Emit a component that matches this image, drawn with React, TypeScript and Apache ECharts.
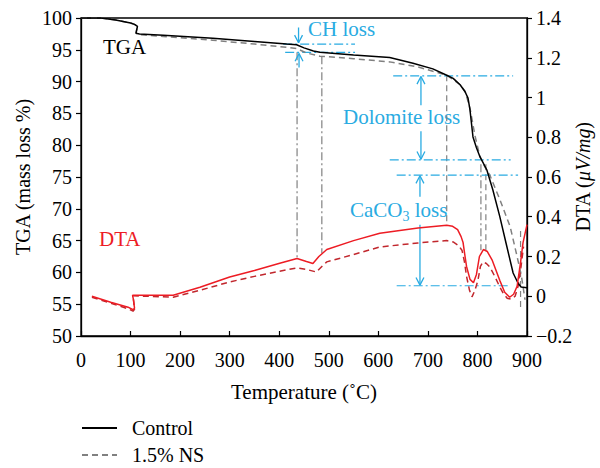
import React, { useEffect, useRef } from "react";
import * as echarts from "echarts";

// ---- TGA (mass loss %) ----
const tgaControlTemp = [0, 40, 70, 100, 108, 114, 112, 111, 118, 166, 266, 350, 415, 435, 450, 469, 482, 550, 623, 670, 710, 738, 751, 765, 775, 781, 785, 791, 798, 805, 819, 831, 845, 858, 872, 882, 888, 900];
const tgaControl = [100, 100, 99.7, 99.2, 99.0, 98.7, 98.0, 97.6, 97.5, 97.3, 96.8, 96.3, 95.9, 95.8, 95.3, 94.8, 94.6, 94.2, 93.8, 92.9, 92.0, 91.0, 90.5, 89.5, 88.4, 87.4, 85.5, 81.3, 79.6, 78.2, 76.1, 73.0, 68.8, 64.5, 59.9, 58.3, 57.7, 57.6];

const tgaNSTemp = [0, 40, 70, 100, 108, 114, 112, 111, 118, 166, 266, 350, 415, 435, 455, 482, 550, 623, 680, 738, 751, 765, 775, 785, 795, 805, 815, 825, 845, 866, 880, 889, 896];
const tgaNS = [100, 100, 99.7, 99.2, 99.0, 98.7, 98.0, 97.6, 97.4, 97.1, 96.5, 95.9, 95.4, 95.2, 94.5, 94.0, 93.6, 93.1, 92.3, 91.0, 90.3, 89.5, 88.5, 85.8, 81.5, 78.2, 76.6, 75.3, 71.5, 67.2, 62.5, 59.3, 55.7];

// ---- DTA (μV/mg) ----
const dtaControlTemp = [22, 60, 95, 105, 108, 106, 104, 120, 186, 240, 300, 350, 401, 436, 455, 468, 480, 496, 550, 603, 680, 738, 750, 760, 767, 771, 775, 778, 785, 792, 798, 804, 812, 820, 830, 845, 855, 865, 873, 880, 887, 892, 900];
const dtaControl = [0.0, -0.03, -0.055, -0.068, -0.06, -0.02, 0.005, 0.005, 0.005, 0.045, 0.097, 0.13, 0.166, 0.19, 0.175, 0.165, 0.2, 0.235, 0.28, 0.317, 0.343, 0.357, 0.352, 0.335, 0.3, 0.27, 0.2, 0.15, 0.085, 0.068, 0.11, 0.2, 0.235, 0.225, 0.18, 0.08, 0.02, -0.005, 0.01, 0.05, 0.17, 0.27, 0.36];

const dtaNSTemp = [22, 60, 95, 105, 108, 106, 104, 130, 186, 240, 300, 350, 401, 436, 455, 475, 486, 496, 550, 603, 680, 738, 751, 762, 769, 774, 778, 784, 789, 795, 801, 806, 811, 818, 825, 835, 845, 852, 860, 868, 876, 882, 888, 893];
const dtaNS = [-0.005, -0.035, -0.063, -0.075, -0.066, -0.02, 0.003, 0.0, -0.005, 0.03, 0.072, 0.1, 0.126, 0.143, 0.135, 0.122, 0.15, 0.173, 0.21, 0.248, 0.268, 0.28, 0.273, 0.255, 0.23, 0.17, 0.1, 0.03, -0.003, 0.03, 0.08, 0.15, 0.173, 0.165, 0.147, 0.1, 0.047, 0.015, -0.01, -0.015, 0.0, 0.05, 0.15, 0.25];

// ---- annotation values (TGA axis units) ----
const refTemp = [436, 486, 738, 807, 817, 887];
const refTop = [94.6, 94.0, 91.0, 77.0, 77.0, 66.5];
const refBottom = [62.3, 63.0, 67.6, 63.5, 63.5, 54.5];
const refDash = ["dashdot", "dashdot", "dashed", "dashdot", "dashed", "dashed"];

const levelValue = [95.9, 94.6, 90.9, 77.7, 75.3, 57.9];
const levelFrom = [408, 412, 630, 623, 637, 637];
const levelTo = [553, 553, 872, 867, 882, 866];

const arrowTemp = [439, 440, 686, 686, 684, 684];
const arrowFrom = [98.5, 92.2, 86.3, 82.2, 71.9, 67.5];
const arrowTo = [96.1, 94.4, 90.8, 77.8, 75.2, 58.0];

const seriesNames = ["Control", "1.5% NS"];

const FONT = "'Liberation Serif', serif";
const BLUE = "#29abe2";
const RED = "#ed1c24";
const DARKRED = "#c1272d";
const GRAY = "#808080";

const zip = (a: number[], b: number[]) => a.map((x, i) => [x, b[i]]);

export default function App() {
  const ref = useRef<HTMLDivElement>(null);
  useEffect(() => {
    document.body.style.margin = "0";
    const chart = echarts.init(ref.current!, undefined, { renderer: "svg" });

    const series: any[] = [
      {
        name: seriesNames[0], type: "line", yAxisIndex: 0, data: zip(tgaControlTemp, tgaControl),
        symbol: "none", lineStyle: { color: "#000", width: 1.5 }, itemStyle: { color: "#000" }, z: 5,
      },
      {
        name: seriesNames[1], type: "line", yAxisIndex: 0, data: zip(tgaNSTemp, tgaNS),
        symbol: "none", lineStyle: { color: GRAY, width: 1.5, type: [6, 4] }, itemStyle: { color: GRAY }, z: 4,
      },
      {
        name: "DTA Control", type: "line", yAxisIndex: 1, data: zip(dtaControlTemp, dtaControl),
        symbol: "none", lineStyle: { color: RED, width: 1.5 }, z: 5,
      },
      {
        name: "DTA 1.5% NS", type: "line", yAxisIndex: 1, data: zip(dtaNSTemp, dtaNS),
        symbol: "none", lineStyle: { color: DARKRED, width: 1.5, type: [6, 4] }, z: 4,
      },
    ];

    refTemp.forEach((t, i) => {
      series.push({
        type: "line", yAxisIndex: 0, symbol: "none", silent: true,
        data: [[t, refTop[i]], [t, refBottom[i]]],
        lineStyle: { color: GRAY, width: 1.2, type: refDash[i] === "dashdot" ? [8, 3, 2, 3] : [6, 4] },
        z: 2,
      });
    });

    levelValue.forEach((v, i) => {
      series.push({
        type: "line", yAxisIndex: 0, symbol: "none", silent: true,
        data: [[levelFrom[i], v], [levelTo[i], v]],
        lineStyle: { color: BLUE, width: 1.2, type: [9, 3, 2, 3] },
        z: 3,
      });
    });

    arrowTemp.forEach((t, i) => {
      const dir = arrowTo[i] > arrowFrom[i] ? 1 : -1;
      series.push({
        type: "line", yAxisIndex: 0, symbol: "none", silent: true,
        data: [[t, arrowFrom[i]], [t, arrowTo[i]]],
        lineStyle: { color: BLUE, width: 1.3 },
        z: 3,
      });
      series.push({
        type: "line", yAxisIndex: 0, symbol: "none", silent: true,
        data: [[t - 8, arrowTo[i] - dir * 1.2], [t, arrowTo[i]], [t + 8, arrowTo[i] - dir * 1.2]],
        lineStyle: { color: BLUE, width: 1.3 },
        z: 3,
      });
    });

    const labelStyle = { fontFamily: FONT, fontSize: 20, color: "#000" };
    const nameStyle = { fontFamily: FONT, fontSize: 20, color: "#000" };

    chart.setOption({
      animation: false,
      grid: {
        left: 81, right: 73, top: 18, bottom: 132, outerBoundsMode: "none", containLabel: false,
        show: true, borderColor: "#000", borderWidth: 1.3, backgroundColor: "transparent",
      },
      legend: {
        data: seriesNames,
        orient: "vertical",
        left: 81,
        top: 418,
        height: 60,
        padding: 0,
        itemWidth: 35,
        itemHeight: 14,
        itemGap: 7,
        itemStyle: { opacity: 0 },
        textStyle: { fontFamily: FONT, fontSize: 20, color: "#000", lineHeight: 14, padding: [0, 0, 0, 10] },
      },
      xAxis: {
        type: "value", min: 0, max: 900, interval: 100,
        axisLine: { onZero: false, lineStyle: { color: "#000", width: 1.3 } },
        axisTick: { inside: true, length: 5, lineStyle: { color: "#000", width: 1.2 } },
        splitLine: { show: false },
        axisLabel: { ...labelStyle, margin: 14 },
        name: "Temperature (˚C)", nameLocation: "middle", nameGap: 45, nameMoveOverlap: false,
        nameTextStyle: { ...nameStyle, fontSize: 21 },
      },
      yAxis: [
        {
          type: "value", min: 50, max: 100, interval: 5, position: "left",
          axisLine: { show: true, onZero: false, lineStyle: { color: "#000", width: 1.3 } },
          axisTick: { show: true, inside: false, length: 5, lineStyle: { color: "#000", width: 1.2 } },
          splitLine: { show: false },
          axisLabel: { ...labelStyle, margin: 9 },
          name: "TGA (mass loss %)", nameLocation: "middle", nameGap: 48, nameMoveOverlap: false,
          nameTextStyle: nameStyle,
        },
        {
          type: "value", min: -0.2, max: 1.4, interval: 0.2, position: "right",
          axisLine: { show: true, onZero: false, lineStyle: { color: "#000", width: 1.3 } },
          axisTick: { show: true, inside: false, length: 5, lineStyle: { color: "#000", width: 1.2 } },
          splitLine: { show: false },
          axisLabel: {
            ...labelStyle, margin: 9,
            formatter: (v: number) => {
              const r = parseFloat(v.toFixed(1));
              if (Math.abs(r) < 1e-9) return "0";
              return r < 0 ? "\u2212" + String(Math.abs(r)) : String(r);
            },
          },
          name: "{n|DTA (}{i|μV/mg}{n|)}", nameLocation: "middle", nameGap: 46, nameMoveOverlap: false,
          nameTextStyle: {
            ...nameStyle,
            rich: {
              n: { fontFamily: FONT, fontSize: 20, color: "#000" },
              i: { fontFamily: FONT, fontSize: 20, color: "#000", fontStyle: "italic" },
            },
          },
        },
      ],
      graphic: [
        { type: "text", left: 103, top: 36, style: { text: "TGA", fontFamily: FONT, fontSize: 21, fill: "#000" } },
        { type: "text", left: 99, top: 228, style: { text: "DTA", fontFamily: FONT, fontSize: 21, fill: RED } },
        { type: "text", left: 308, top: 18, style: { text: "CH loss", fontFamily: FONT, fontSize: 21, fill: BLUE } },
        { type: "text", left: 343, top: 106, style: { text: "Dolomite loss", fontFamily: FONT, fontSize: 21, fill: BLUE } },
        {
          type: "text", left: 350, top: 199,
          style: {
            text: "{n|CaCO}{s|3}{n| loss}",
            fill: BLUE,
            rich: {
              n: { fontFamily: FONT, fontSize: 21, fill: BLUE, lineHeight: 24, verticalAlign: "top" },
              s: { fontFamily: FONT, fontSize: 14, fill: BLUE, lineHeight: 14, verticalAlign: "bottom" },
            },
          },
        },
      ],
      series,
    });
    return () => chart.dispose();
  }, []);
  return <div ref={ref} style={{ width: 600, height: 468 }} />;
}
